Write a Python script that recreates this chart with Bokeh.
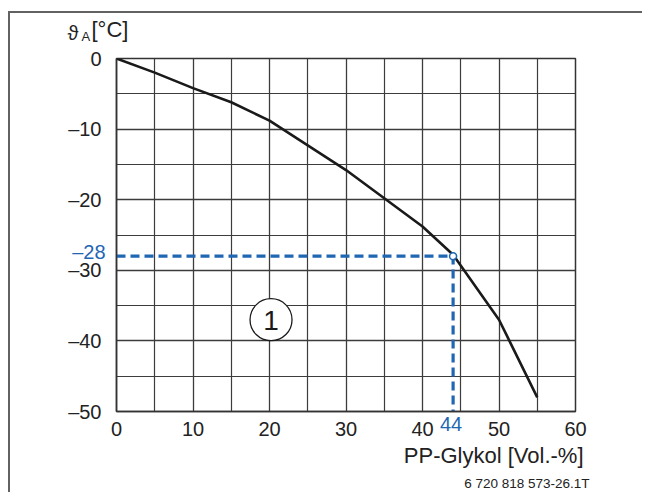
from bokeh.plotting import figure
from bokeh.models import FixedTicker, Label, Range1d
from bokeh.embed import file_html
from bokeh.resources import INLINE

# ---- data ----
glycol = [0, 5, 10, 15, 20, 25, 30, 35, 40, 44, 50, 55]
temp = [0, -2.0, -4.2, -6.2, -8.8, -12.3, -15.8, -19.8, -23.8, -27.8, -37.0, -48.0]
x_ticks = [0, 10, 20, 30, 40, 50, 60]
x_minor = [5, 15, 25, 35, 45, 55]
y_ticks = [0, -10, -20, -30, -40, -50]
y_minor = [-5, -15, -25, -35, -45]
y_tick_labels = ["0", "–10", "–20", "–30", "–40", "–50"]
mark_x = [0, 44, 44]
mark_y = [-28, -28, -50]
point_x = [44]
point_y = [-28]
mark_x_label = "44"
mark_y_label = "–28"
callout_x = [20.2]
callout_y = [-37.0]
callout_text = "1"

FONT = "Liberation Sans"
BLUE = "#1f66b3"
GRID = "#3c3c3c"
TXT = "#222222"

p = figure(width=634, height=481, output_backend="svg", toolbar_location=None,
           x_range=Range1d(0, 60), y_range=Range1d(-50, 0),
           min_border_left=106, min_border_right=69, min_border_top=45, min_border_bottom=83)
# drawing box: top and left edges as in the original sheet (shadow instead of border)
p.styles = {"margin-left": "10px", "margin-top": "13px",
            "box-shadow": "-2px -2px 0px 0px #626262"}
p.outline_line_color = "#333333"
p.outline_line_width = 1.5

xt = FixedTicker(ticks=x_ticks, minor_ticks=x_minor)
yt = FixedTicker(ticks=y_ticks, minor_ticks=y_minor)
p.xaxis.ticker = xt
p.yaxis.ticker = yt
p.xgrid.ticker = xt
p.ygrid.ticker = yt
for g in (p.xgrid, p.ygrid):
    g.grid_line_color = GRID
    g.grid_line_width = 1.3
    g.minor_grid_line_color = GRID
    g.minor_grid_line_width = 1.2

for ax in (p.xaxis, p.yaxis):
    ax.axis_line_color = "#333333"
    ax.axis_line_width = 1.5
    ax.major_tick_line_color = None
    ax.minor_tick_line_color = None
    ax.major_tick_out = 0
    ax.major_tick_in = 0
    ax.major_label_text_font = FONT
    ax.major_label_text_font_size = "20px"
    ax.major_label_text_color = TXT
p.xaxis.major_label_standoff = 6
p.yaxis.major_label_standoff = 11
p.yaxis.major_label_overrides = dict(zip(y_ticks, y_tick_labels))

p.line(glycol, temp, line_color="#1a1a1a", line_width=2.6)
p.line(mark_x, mark_y, line_color=BLUE, line_width=3.2, line_dash="9 5")
p.scatter(point_x, point_y, size=7, marker="circle", fill_color="white",
          line_color=BLUE, line_width=1.5)
p.scatter(callout_x, callout_y, size=42, marker="circle", fill_color="white",
          line_color="#1a1a1a", line_width=1.3)
p.add_layout(Label(x=callout_x[0], y=callout_y[0], text=callout_text, text_align="center",
                   text_baseline="middle", text_font=FONT, text_font_size="28px",
                   text_color="#1a1a1a", y_offset=-1))


def lab(text, x, y, panel, **kw):
    opts = dict(text_font=FONT, text_color=TXT)
    opts.update(kw)
    p.add_layout(Label(x=x, y=y, text=text, **opts), panel)


# blue reading labels
lab(mark_y_label, 0, mark_y[0], "left", text_align="right", text_baseline="middle",
    x_offset=-11, y_offset=4, text_font_size="20px", text_color=BLUE)
lab(mark_x_label, mark_x[1], -50, "right", text_align="center", text_baseline="top",
    x_offset=-2, y_offset=-5, text_font_size="20px", text_color=BLUE)

# axis titles
lab("PP-Glykol [Vol.-%]", 60, -50, "below", text_align="right", text_baseline="top",
    x_offset=8, y_offset=-31, text_font_size="22px")
lab("ϑ", 0, 0, "right", text_align="left", text_baseline="top",
    x_offset=-49, y_offset=37, text_font_size="20px")
lab("A", 0, 0, "right", text_align="left", text_baseline="top",
    x_offset=-35, y_offset=30, text_font_size="13px")
lab("[°C]", 0, 0, "above", text_align="left", text_baseline="top",
    x_offset=-25, y_offset=41.5, text_font_size="22px")

# drawing id
lab("6 720 818 573-26.1T", 60, -50, "below", text_align="right", text_baseline="top",
    x_offset=14, y_offset=-64, text_font_size="13.5px")

open("out.html", "w").write(file_html(p, INLINE))
